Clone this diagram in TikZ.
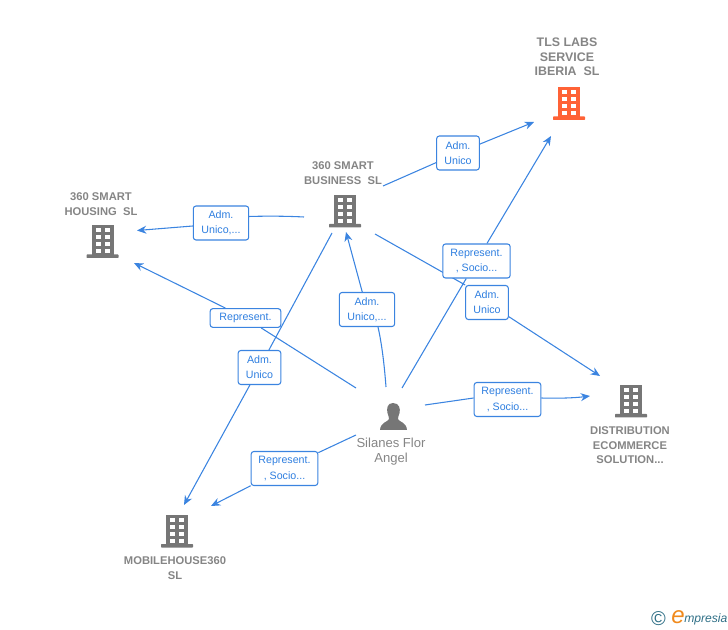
\documentclass[tikz,border=0pt]{standalone}
\usepackage{fontspec}
\setmainfont{Liberation Sans}
\usetikzlibrary{arrows.meta,backgrounds,shadings}
\definecolor{linkblue}{HTML}{3B84E0}
\definecolor{boxtext}{HTML}{2F7FE0}
\definecolor{entgray}{HTML}{767676}
\definecolor{labgray}{HTML}{858585}
\definecolor{entorange}{HTML}{FF6236}
\definecolor{logoteal}{HTML}{2F6F86}
\definecolor{logoorange}{HTML}{F08A1D}
\tikzset{
  x=0.75pt,y=-0.75pt,
  relbox/.style={draw=linkblue,line width=0.8pt,rounded corners=2pt,fill=white,
     text=boxtext,font=\fontsize{8}{11.4}\selectfont,align=center,inner sep=0pt},
  entlabel/.style={text=labgray,font=\fontsize{8.4}{10.9}\selectfont\bfseries,align=center,inner sep=0pt},
  perslabel/.style={text=labgray,font=\fontsize{9.8}{11.2}\selectfont,align=center,inner sep=0pt},
  link/.style={draw=linkblue,line width=0.8pt},
  arrowlink/.style={link,-{Stealth[length=7pt,width=6pt]}},
  pics/building/.style={code={
    \fill[#1] (-11,-16) rectangle (11,14);
    \fill[#1,rounded corners=0.5pt] (-16,13) rectangle (16,16.5);
    \foreach \wy in {-13,-6,1,8}{
      \fill[white] (-7,\wy) rectangle (-2,\wy+4);
      \fill[white] (2,\wy) rectangle (7,\wy+4);
    }
  }},
}
\begin{document}
\begin{tikzpicture}
\useasboundingbox (0,0) rectangle (728,630);

% entity labels
\node[entlabel,font=\fontsize{9.3}{10.9}\selectfont\bfseries] (tls) at (567,57) {TLS LABS\\SERVICE\\IBERIA\ \ SL};
\node[entlabel] (business) at (343,173) {360 SMART\\BUSINESS\ \ SL};
\node[entlabel] (housing) at (101,204) {360 SMART\\HOUSING\ \ SL};
\node[entlabel] (distribution) at (630,445.5) {DISTRIBUTION\\ECOMMERCE\\SOLUTION...};
\node[entlabel] (mobile) at (175,568) {MOBILEHOUSE360\\SL};
\node[perslabel] (silanes) at (391,451.5) {Silanes Flor\\Angel};

% icons
\pic at (569,103.5) {building=entorange};
\pic at (345,211) {building=entgray};
\pic at (102.5,241.5) {building=entgray};
\pic at (631,401) {building=entgray};
\pic at (177,531) {building=entgray};
\fill[entgray] (393,403) .. controls (387,403) and (386.5,409) .. (387.5,413)
  .. controls (388,416) and (389.5,417.5) .. (389,419)
  .. controls (388,422) and (380.5,422) .. (380,430) -- (407,430)
  .. controls (406.5,422) and (399,422) .. (398,419)
  .. controls (397.5,417.5) and (399,416) .. (399.5,413)
  .. controls (400.5,409) and (399.5,403) .. (393,403) -- cycle;

% relation boxes
\node[relbox,minimum width=32pt,minimum height=25.5pt] (b1) at (458,153) {Adm.\\Unico};
\node[relbox,minimum width=41.5pt,minimum height=25.5pt] (b2) at (221,223) {Adm.\\Unico,...};
\node[relbox,minimum width=53pt,minimum height=14pt] (b3) at (245.5,318) {Represent.};
\node[relbox,minimum width=32pt,minimum height=25.5pt] (b4) at (259.5,367.5) {Adm.\\Unico};
\node[relbox,minimum width=41.5pt,minimum height=25.5pt] (b5) at (367,309.5) {Adm.\\Unico,...};
\node[relbox,minimum width=50.5pt,minimum height=25.5pt] (b6) at (476.5,261) {Represent.\\, Socio...};
\node[relbox,minimum width=32pt,minimum height=25.5pt] (b7) at (487,302.5) {Adm.\\Unico};
\node[relbox,minimum width=50pt,minimum height=25.5pt] (b8) at (507.5,399.5) {Represent.\\, Socio...};
\node[relbox,minimum width=50pt,minimum height=25.5pt] (b9) at (284.5,468.5) {Represent.\\, Socio...};

% connector ends
\coordinate (s1) at (383,186);  \coordinate (e1) at (534,122);
\coordinate (s2) at (304,217);  \coordinate (e2) at (137,230.5);
\coordinate (s3) at (356,388);  \coordinate (e3) at (134,263);
\coordinate (s4) at (332,233);  \coordinate (e4) at (184,505);
\coordinate (s5) at (386,387);  \coordinate (e5) at (346,232);
\coordinate (s6) at (402,388);  \coordinate (e6) at (551,136);
\coordinate (s7) at (375,234);  \coordinate (e7) at (600,376);
\coordinate (s8) at (425,405);  \coordinate (e8) at (590,396);
\coordinate (s9) at (356,435);  \coordinate (e9) at (211,506);

\begin{scope}[on background layer]
  \draw[link] (s1) -- (b1);      \draw[arrowlink] (b1) -- (e1);
  \draw[link] (s2) .. controls (285,216) and (265,216) .. (b2.east|-0,216.5);
  \draw[arrowlink] (b2.west|-0,226) -- (e2);
  \draw[link] (s3) -- (b3);      \draw[arrowlink] (b3) -- (e3);
  \draw[link] (s4) -- (b4);      \draw[arrowlink] (b4) -- (e4);
  \draw[link] (s5) .. controls (384,360) and (381,340) .. (378,327);
  \draw[arrowlink] (b5) -- (e5);
  \draw[link] (s6) -- (b6);      \draw[arrowlink] (b6) -- (e6);
  \draw[link] (s7) -- (b7.north west);      \draw[arrowlink] (b7) -- (e7);
  \draw[link] (s8) -- (b8.west|-0,398);
  \draw[arrowlink] (b8.east|-0,398) .. controls (558,398.5) and (574,398) .. (e8);
  \draw[link] (s9) -- (b9);      \draw[arrowlink] (b9) -- (e9);
\end{scope}

% logo
\node[text=logoteal,inner sep=0pt,font=\fontsize{15}{15}\selectfont] (copyr) at (658.5,619) {©};
\node[text=logoorange,inner sep=0pt,font=\fontsize{18}{18}\selectfont\itshape] (logoe) at (678,617.5) {e};
\node[text=logoteal,inner sep=0pt,anchor=west,font=\fontsize{9.1}{10}\selectfont\itshape] (logom) at (684,619) {mpresia};
\end{tikzpicture}
\end{document}
